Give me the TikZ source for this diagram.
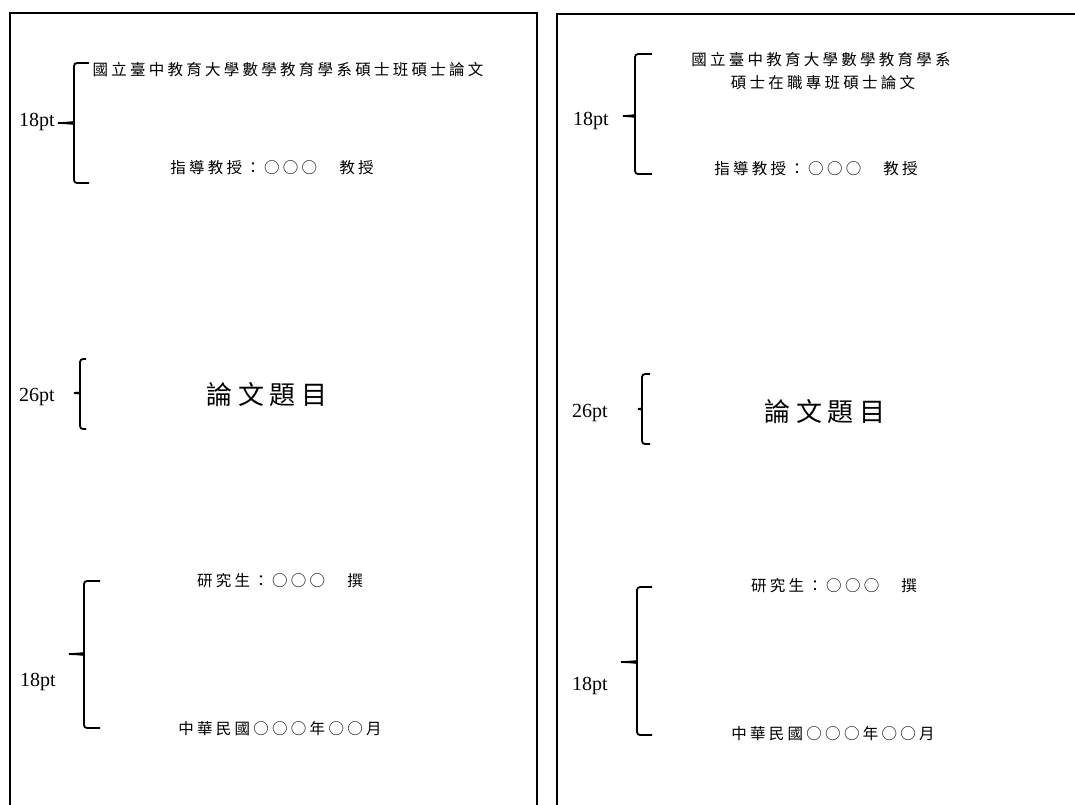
\documentclass[tikz,border=0pt]{standalone}
\usepackage{fontspec}
\setmainfont{Liberation Serif}
\newfontfamily\cjk[LetterSpace=21]{Noto Sans CJK TC}
\begin{document}
\begin{tikzpicture}[x=1pt,y=-1pt,
  pagebox/.style={line width=1.5pt},
  bracestroke/.style={line width=1.8pt, rounded corners=3pt},
  cjktext/.style={inner sep=0pt, font=\cjk\fontsize{15.5}{18}\selectfont},
  titletext/.style={inner sep=0pt, font=\cjk\fontsize{26}{30}\selectfont},
  ptlabel/.style={inner sep=0pt, font=\fontsize{20}{24}\selectfont}]
\useasboundingbox (0,0) rectangle (1075,804);
\clip (0,0) rectangle (1075,804);
\fill[white] (0,0) rectangle (1075,804);
% pages
\draw[pagebox] (10,13) rectangle (537,830);
\draw[pagebox] (557,14) rectangle (1090,830);

% ---------- left page ----------
\node[cjktext] (l1) at (288,70) {國立臺中教育大學數學教育學系碩士班碩士論文};
\node[cjktext] (l2) at (272,168) {指導教授：○○○　教授};
\node[titletext] (l3) at (267,395) {論文題目};
\node[cjktext] (l4) at (280,581) {研究生：○○○　撰};
\node[cjktext] (l5) at (280,729) {中華民國○○○年○○月};
\node[ptlabel] (lp1) at (37,122) {18pt};
\node[ptlabel] (lp2) at (37,397) {26pt};
\node[ptlabel] (lp3) at (38,682) {18pt};
% braces
\draw[bracestroke] (89,63) -- (74,63) -- (74,119) .. controls (74,122) and (66,123) .. (58,123)
   (58,123) .. controls (66,123) and (74,124) .. (74,127) -- (74,183) -- (89,183);
\draw[bracestroke] (86,359) -- (80,359) -- (80,390) .. controls (80,392) and (77,393) .. (74,393)
   (74,393) .. controls (77,393) and (80,394) .. (80,396) -- (80,429) -- (86,429);
\draw[bracestroke] (100,581) -- (84,581) -- (84,650) .. controls (84,653) and (76,654) .. (69,654)
   (69,654) .. controls (76,654) and (84,655) .. (84,658) -- (84,728) -- (100,728);

% ---------- right page ----------
\node[cjktext] (r1) at (821,60) {國立臺中教育大學數學教育學系};
\node[cjktext] (r1b) at (823,83) {碩士在職專班碩士論文};
\node[cjktext] (r2) at (816,169) {指導教授：○○○　教授};
\node[titletext] (r3) at (825,412) {論文題目};
\node[cjktext] (r4) at (834,586) {研究生：○○○　撰};
\node[cjktext] (r5) at (833,734) {中華民國○○○年○○月};
\node[ptlabel] (rp1) at (591,121) {18pt};
\node[ptlabel] (rp2) at (590,413) {26pt};
\node[ptlabel] (rp3) at (590,686) {18pt};
\draw[bracestroke] (652,54) -- (635,54) -- (635,112) .. controls (635,115) and (629,116) .. (623,116)
   (623,116) .. controls (629,116) and (635,117) .. (635,120) -- (635,174) -- (652,174);
\draw[bracestroke] (650,374) -- (642,374) -- (642,406) .. controls (642,408) and (640,409) .. (638,409)
   (638,409) .. controls (640,409) and (642,410) .. (642,412) -- (642,444) -- (650,444);
\draw[bracestroke] (652,587) -- (637,587) -- (637,658) .. controls (637,661) and (629,662) .. (621,662)
   (621,662) .. controls (629,662) and (637,663) .. (637,666) -- (637,735) -- (652,735);
\end{tikzpicture}
\end{document}
